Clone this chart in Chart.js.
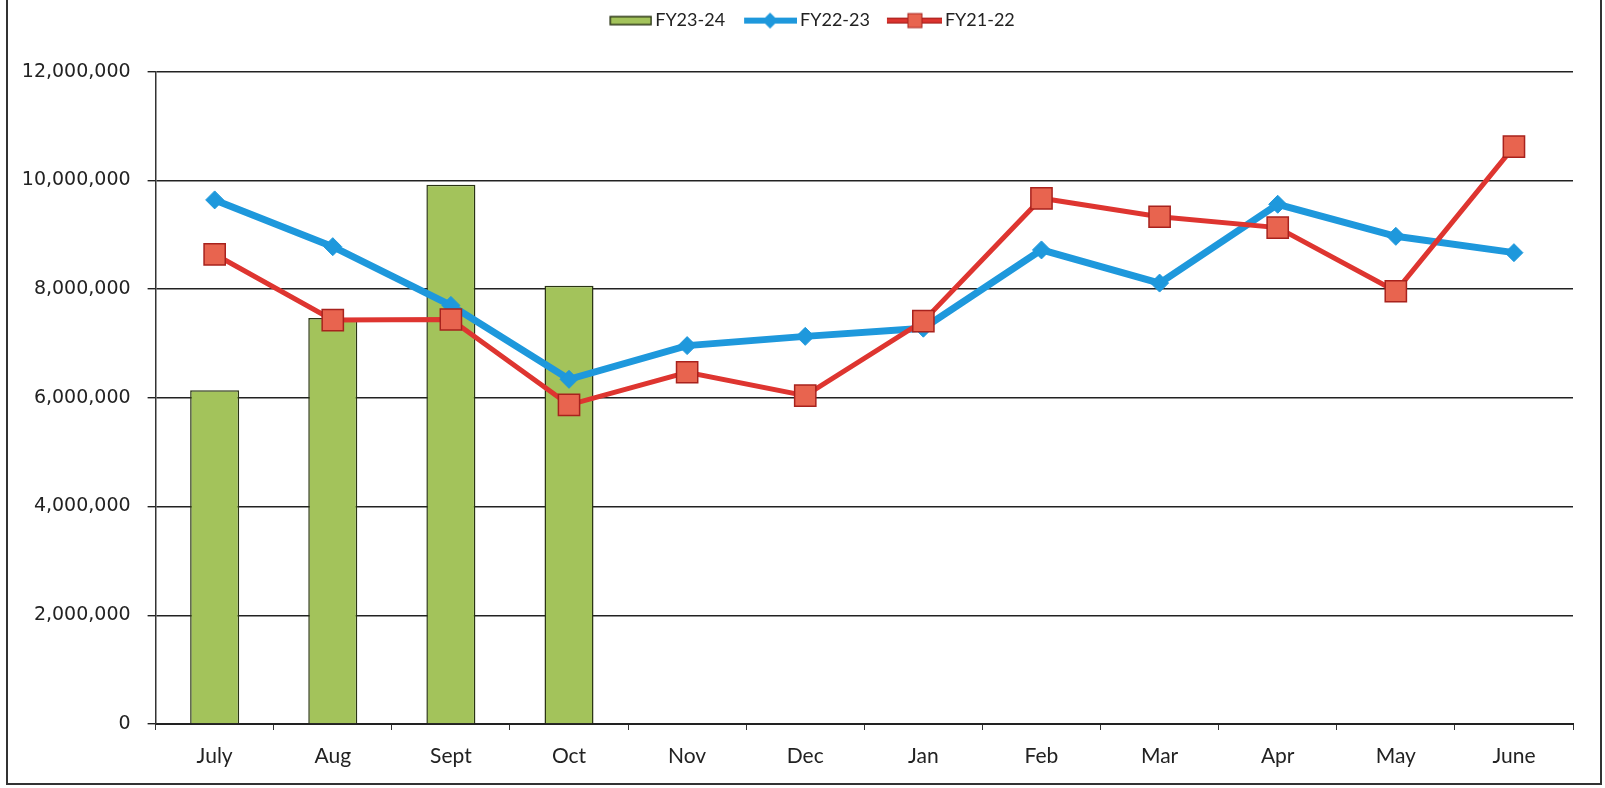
<!DOCTYPE html>
<html>
<head>
<meta charset="utf-8">
<script src="https://cdn.jsdelivr.net/npm/chart.js@4.4.0/dist/chart.umd.min.js"></script>
<style>
	body { margin: 0; background: #ffffff; }
	#wrap { position: relative; width: 1605px; height: 788px; }
	#frame { position: absolute; left: 6px; top: -3px; width: 1592px; height: 784px; border: 2px solid #333; pointer-events: none; }
</style>
</head>
<body>
<div id="wrap">
	<canvas id="myChart"></canvas>
	<div id="frame"></div>
</div>
<script>
var months = ["July", "Aug", "Sept", "Oct", "Nov", "Dec", "Jan", "Feb", "Mar", "Apr", "May", "June"];
var fy2324 = [6140000, 7470000, 9920000, 8060000, null, null, null, null, null, null, null, null];
var fy2223 = [9640000, 8780000, 7700000, 6340000, 6960000, 7130000, 7280000, 8720000, 8110000, 9560000, 8970000, 8670000];
var fy2122 = [8640000, 7430000, 7440000, 5870000, 6470000, 6040000, 7410000, 9670000, 9330000, 9130000, 7960000, 10620000];
var yTicks = [0, 2000000, 4000000, 6000000, 8000000, 10000000, 12000000];

var GREEN = '#a3c35b';
var GREEN_EDGE = '#2a3414';
var BLUE = '#1e98dc';
var RED = '#de3530';
var RED_FILL = '#e8644f';
var RED_EDGE = '#a8221d';

// legend swatches (line + marker, like the office chart)
function swatch(kind)
{
	var c = document.createElement('canvas');
	c.width = 60;
	c.height = 24;
	var g = c.getContext('2d');
	if (kind == 'bar')
	{
		g.fillStyle = GREEN;
		g.fillRect(18, 8, 41, 8);
		g.strokeStyle = GREEN_EDGE;
		g.lineWidth = 1.5;
		g.strokeRect(18, 8, 41, 8);
	}
	else if (kind == 'blue')
	{
		g.strokeStyle = BLUE;
		g.lineWidth = 6;
		g.beginPath(); g.moveTo(7, 12); g.lineTo(60, 12); g.stroke();
		g.fillStyle = BLUE;
		g.beginPath(); g.moveTo(33, 4); g.lineTo(41, 12); g.lineTo(33, 20); g.lineTo(25, 12); g.closePath(); g.fill();
	}
	else
	{
		g.strokeStyle = RED_EDGE;
		g.lineWidth = 6;
		g.beginPath(); g.moveTo(5, 12); g.lineTo(60, 12); g.stroke();
		g.strokeStyle = RED;
		g.lineWidth = 3.5;
		g.beginPath(); g.moveTo(5, 12); g.lineTo(60, 12); g.stroke();
		g.fillStyle = RED_FILL;
		g.fillRect(26, 5, 14, 14);
		g.strokeStyle = RED_EDGE;
		g.lineWidth = 1;
		g.strokeRect(26, 5, 14, 14);
	}
	return c;
}
var swatches = [swatch('bar'), swatch('blue'), swatch('red')];

// nudge the legend to where the original sits
var legendNudge = {
	id: 'legendNudge',
	afterLayout: function (chart)
	{
		var lg = chart.legend;
		lg.left += 15; lg.right += 15;
		lg.top -= 32; lg.bottom -= 32;
	}
};

var ctx = document.getElementById("myChart");
var myChart = new Chart(ctx, {
	type: 'bar',
	plugins: [legendNudge],
	data: {
		labels: months,
		datasets: [
		{
			type: 'bar',
			label: 'FY23-24',
			data: fy2324,
			backgroundColor: GREEN,
			borderColor: GREEN_EDGE,
			borderWidth: 1.5,
			categoryPercentage: 1,
			barPercentage: 0.415,
			order: 3
		},
		{
			type: 'line',
			label: 'FY22-23',
			data: fy2223,
			borderColor: BLUE,
			backgroundColor: BLUE,
			borderWidth: 7,
			pointStyle: 'rectRot',
			pointRadius: 9,
			pointBorderWidth: 1,
			pointBorderColor: BLUE,
			pointBackgroundColor: BLUE,
			tension: 0,
			order: 2
		},
		{
			type: 'line',
			label: 'FY21-22',
			data: fy2122,
			borderColor: RED,
			backgroundColor: RED_FILL,
			borderWidth: 5,
			pointStyle: 'rect',
			pointRadius: 15,
			pointBorderWidth: 1.5,
			pointBorderColor: RED_EDGE,
			pointBackgroundColor: RED_FILL,
			tension: 0,
			order: 1
		}]
	},
	options: {
		responsive: true,
		maintainAspectRatio: false,
		animation: false,
		layout: { padding: { left: 10, right: 32, top: 25.6, bottom: 0 } },
		plugins: {
			tooltip: { enabled: false },
			legend: {
				position: 'top',
				labels: {
					font: { family: 'Lato', size: 18 },
					color: '#222',
					usePointStyle: true,
					pointStyleWidth: 48,
					boxHeight: 18,
					padding: 18,
					sort: function (a, b) { return a.datasetIndex - b.datasetIndex; },
					generateLabels: function (chart)
					{
						var items = Chart.defaults.plugins.legend.labels.generateLabels(chart);
						for (var i in items)
						{
							items[i].pointStyle = swatches[items[i].datasetIndex];
						}
						return items;
					}
				}
			}
		},
		scales: {
			x: {
				offset: true,
				grid: { offset: true, drawOnChartArea: false, drawTicks: true, tickLength: 6, color: '#333', lineWidth: 1 },
				border: { display: true, color: '#222', width: 2 },
				ticks: { font: { family: 'Lato', size: 21 }, color: '#222', padding: 14 },
				afterFit: function (scale) { scale.height = 64; }
			},
			y: {
				min: 0,
				max: 12000000,
				afterBuildTicks: function (scale)
				{
					scale.ticks = yTicks.map(function (v) { return { value: v }; });
				},
				grid: { color: '#222', lineWidth: 1.4, tickLength: 8 },
				border: { display: true, color: '#333', width: 1.5 },
				ticks: {
					font: { family: 'DejaVu Sans', size: 19 },
					color: '#222',
					padding: 17,
					callback: function (v) { return Number(v).toLocaleString('en-US'); }
				},
				afterFit: function (scale) { scale.width = 145.6; }
			}
		}
	}
});
</script>
</body>
</html>
